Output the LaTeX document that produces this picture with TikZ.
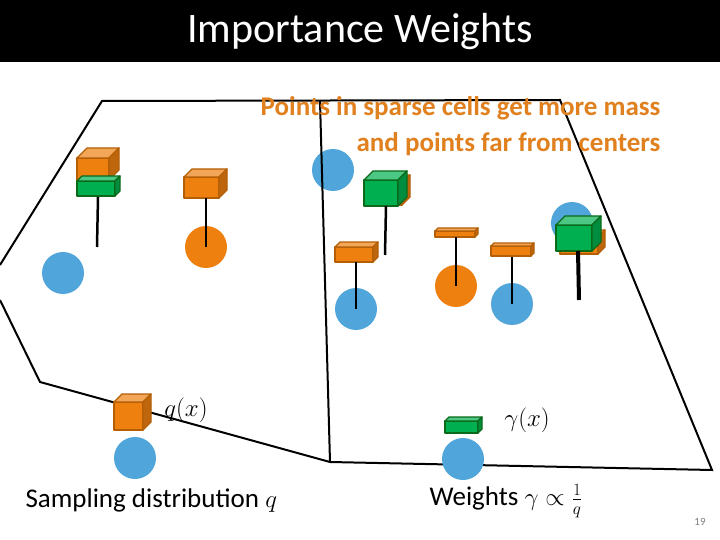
\documentclass[tikz,border=0pt]{standalone}
\usepackage{fontspec}
\setmainfont{Carlito}
\definecolor{org}{HTML}{EE8010}
\definecolor{orgd}{HTML}{B45F06}
\definecolor{blu}{HTML}{50A5DA}
\definecolor{grn}{HTML}{00B050}
\definecolor{grnd}{HTML}{0A6A1A}
\definecolor{txo}{HTML}{E0801E}
\newcommand\mycube[7]{%
 \draw[#7,line width=1.3pt,line join=round,fill=#6] (#1,#2) rectangle ++(#3,#4);
 \draw[#7,line width=1.3pt,line join=round,fill=#6!70!white] (#1,#2)--++(#5,-#5)--++(#3,0)--(#1+#3,#2)--cycle;
 \draw[#7,line width=1.3pt,line join=round,fill=#6!80!black] (#1+#3,#2)--++(#5,-#5)--++(0,#4)--(#1+#3,#2+#4)--cycle;}
\tikzset{pt/.style={circle,minimum size=42pt,inner sep=0pt},
 stem/.style={line width=2.5pt},
 edge/.style={line width=2pt}}
\begin{document}
\begin{tikzpicture}[x=1pt,y=-1pt]
\useasboundingbox (0,0) rectangle (720,540);
\fill[white] (0,0) rectangle (720,540);
\fill[black] (0,0) rectangle (720,62);
\node[white,font=\fontsize{42}{46}\selectfont] (title) at (360,32) {Importance Weights};
% outline
\draw[edge] (0,265)--(102,101)--(560,100)--(712,470)--(330,462)--(40,382)--(0,300);
\node[pt,fill=blu] (c3) at (333,170) {};
\draw[edge] (320,101)--(330,462);
\node[txo,font=\bfseries\fontsize{27}{36}\selectfont,align=right,anchor=east] (note) at (664,126) {Points in sparse cells get more mass\\and points far from centers};
% group 1
\node[pt,fill=blu] (c1) at (63,273) {};
\mycube{77}{158}{32}{22}{10}{org}{orgd}
\mycube{77}{181}{38}{15}{5}{grn}{grnd}
\draw[stem] (98,197)--(97,247);
% group 2
\node[pt,fill=org] (c2) at (206,247) {};
\mycube{184}{177}{35}{21}{8}{org}{orgd}
\draw[stem] (206,198)--(c2.center);
% group 4
\mycube{368}{183}{34}{22}{8}{org}{orgd}
\mycube{364}{180}{34}{26}{9}{grn}{grnd}
\draw[stem] (386,206)--(385,255);
% group 5
\node[pt,fill=blu] (c5) at (356,309) {};
\mycube{335}{247}{38}{15}{5}{org}{orgd}
\draw[stem] (356,262)--(c5.center);
% group 6
\node[pt,fill=org] (c6) at (456,286) {};
\mycube{435}{231}{40}{6}{3}{org}{orgd}
\draw[stem] (456,237)--(c6.center);
% group 7
\node[pt,fill=blu] (c7) at (512,304) {};
\mycube{491}{246}{40}{10}{3}{org}{orgd}
\draw[stem] (512,257)--(c7.center);
% group 8
\node[pt,fill=blu] (c8) at (572,223) {};
\mycube{560}{237}{38}{17}{7}{org}{orgd}
\mycube{556}{225}{36}{26}{9}{grn}{grnd}
\draw[line width=4pt] (578,251)--(579,300);
% bottom left
\node[pt,fill=blu] (c9) at (135,458) {};
\mycube{114}{402}{29}{28}{8}{org}{orgd}
\node[font=\fontsize{25}{28}\selectfont] (qx) at (186,410) {$q(x)$};
% bottom right
\node[pt,fill=blu] (c10) at (463,459) {};
\mycube{445}{421}{33}{12}{4}{grn}{grnd}
\node[font=\fontsize{25}{28}\selectfont] (gx) at (527,420) {$\gamma(x)$};
% captions
\node[anchor=west,font=\fontsize{27}{30}\selectfont] (cap1) at (22,501) {Sampling distribution $q$};
\node[anchor=west,font=\fontsize{27}{30}\selectfont] (cap2) at (426,501) {Weights $\gamma\propto\frac{1}{q}$};
\node[gray,font=\fontsize{11}{13}\selectfont] (pg) at (700,522) {19};
\end{tikzpicture}
\end{document}
